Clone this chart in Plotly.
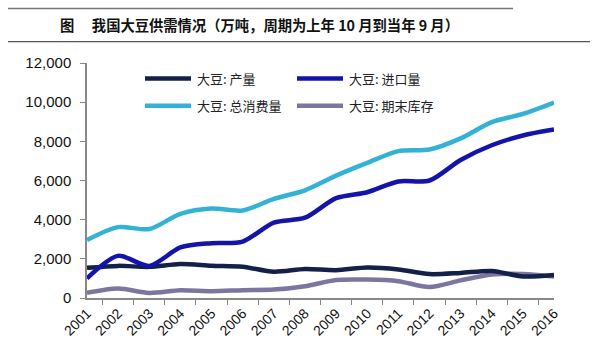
import plotly.graph_objects as go

years = [str(y) for y in range(2001, 2017)]
production = [1540, 1640, 1590, 1740, 1650, 1600, 1340, 1480, 1420, 1560, 1460, 1220, 1280, 1380, 1100, 1180]
imports = [1000, 2150, 1640, 2580, 2800, 2880, 3850, 4100, 5100, 5400, 5950, 6000, 7050, 7800, 8300, 8600]
consumption = [2960, 3620, 3520, 4300, 4570, 4470, 5060, 5500, 6250, 6900, 7500, 7580, 8150, 8980, 9400, 9980]
stocks = [260, 480, 260, 400, 350, 400, 430, 600, 920, 940, 860, 560, 900, 1200, 1230, 1100]

names = ["大豆: 产量", "大豆: 进口量", "大豆: 总消费量", "大豆: 期末库存"]
colors = ["#12204a", "#1414aa", "#34b2d6", "#7b76a0"]
series = [production, imports, consumption, stocks]

fig = go.Figure()
for i in [3, 0, 1, 2]:
    fig.add_trace(go.Scatter(x=years, y=series[i], mode="lines", name=names[i],
                             line=dict(color=colors[i], width=4.5, shape="spline", smoothing=0.8),
                             showlegend=False))

leg_pos = [(145, 79), (297, 79), (145, 107), (297, 107)]
for i, (lx, ly) in enumerate(leg_pos):
    fig.add_shape(type="line", xref="paper", yref="paper",
                  x0=(lx - 87) / 467, x1=(lx + 46 - 87) / 467,
                  y0=(305 - ly) / 242, y1=(305 - ly) / 242,
                  line=dict(color=colors[i], width=4.5))
    fig.add_annotation(text=names[i], xref="paper", yref="paper",
                       x=(lx + 50 - 87) / 467, y=(305 - ly) / 242,
                       xanchor="left", yanchor="middle", showarrow=False,
                       font=dict(family="Noto Sans CJK SC", size=13, color="#222"))

fig.add_annotation(text="<b>图　 我国大豆供需情况（万吨，周期为上年 10 月到当年 9 月）</b>",
                   xref="paper", yref="paper", x=(259 - 87) / 467, y=(305 - 23) / 242,
                   xanchor="center", yanchor="middle", showarrow=False,
                   font=dict(family="Noto Sans CJK SC", size=14.3, color="#111"))
fig.add_shape(type="line", xref="paper", yref="paper",
              x0=(8 - 87) / 467, x1=(513 - 87) / 467, y0=(305 - 7) / 242, y1=(305 - 7) / 242,
              line=dict(color="#777", width=1.5))
fig.add_shape(type="line", xref="paper", yref="paper",
              x0=(8 - 87) / 467, x1=(590 - 87) / 467, y0=(305 - 41) / 242, y1=(305 - 41) / 242,
              line=dict(color="#555", width=1.2))

fig.update_layout(
    width=600, height=351,
    margin=dict(l=87, r=46, t=63, b=46),
    paper_bgcolor="white", plot_bgcolor="white",
    font=dict(family="Liberation Sans, Arial", size=14, color="#111"),
)
fig.update_xaxes(type="category", showline=True, linecolor="#888", linewidth=1.5,
                 ticks="outside", tickson="boundaries", ticklen=5, tickcolor="#888",
                 tickangle=-45, showgrid=False, zeroline=False,
                 tickfont=dict(family="Liberation Sans, Arial", size=14, color="#111"))
fig.update_yaxes(range=[0, 12000], dtick=2000, tickformat=",d", showline=True,
                 linecolor="#888", linewidth=1.5, ticks="outside", ticklen=5, tickcolor="#888",
                 showgrid=False, zeroline=False, ticklabelstandoff=6,
                 tickfont=dict(family="Liberation Sans, Arial", size=15, color="#111"))

fig.write_html("out.html")
